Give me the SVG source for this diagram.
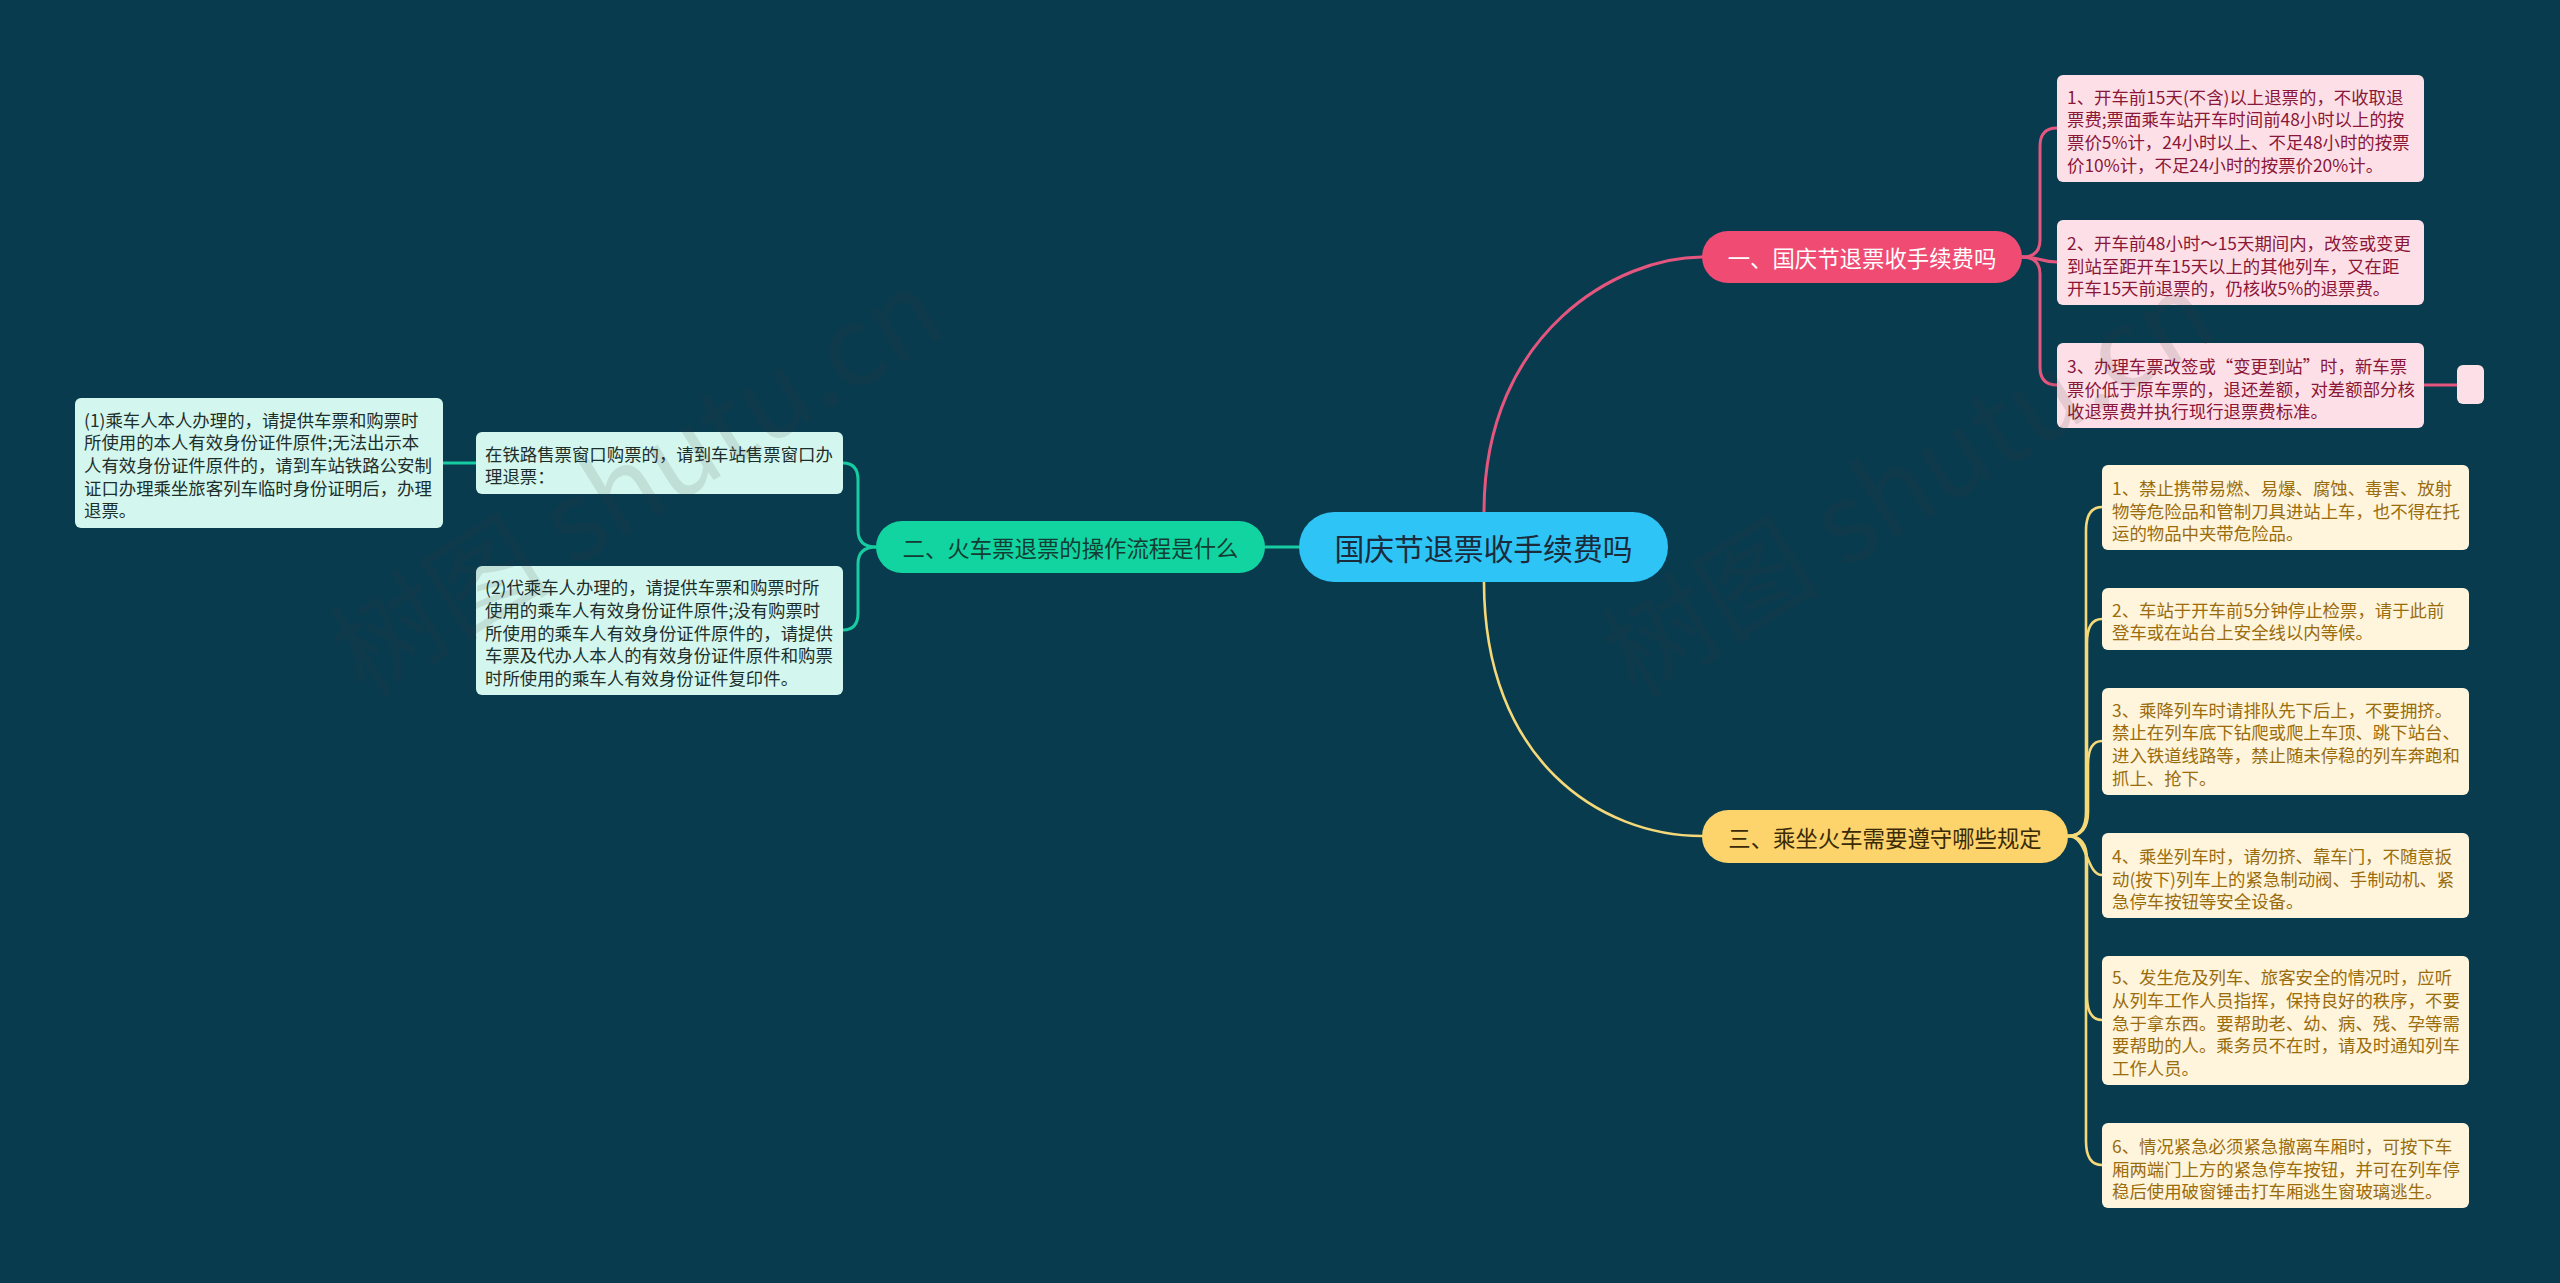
<svg xmlns="http://www.w3.org/2000/svg" width="2560" height="1283" viewBox="0 0 2560 1283">
<style>
text{font-family:"Noto Sans CJK SC","Noto Sans",sans-serif;dominant-baseline:central}
.conn{fill:none;stroke-linecap:round}
.cp{stroke:#E4567E;stroke-width:3}
.cg{stroke:#17CCA0;stroke-width:3}
.cy{stroke:#F5D978;stroke-width:2.6}
.root{fill:#2EC4F6}
.rt{font-size:29.8px;fill:#1B2B3B;text-anchor:middle}
.b1{fill:#EF4B73}
.b2{fill:#12D4A0}
.b3{fill:#FDD46C}
.bt{font-size:22.4px;text-anchor:middle}
.ip{fill:#FDE0E7}
.ig{fill:#D3F7EE}
.iy{fill:#FFF5DC}
.tp{font-size:17.4px;fill:#8A1638}
.tg{font-size:17.4px;fill:#1E2E2B}
.ty{font-size:17.4px;fill:#9A6C0C}
.wm{font-family:"Noto Sans CJK SC","Noto Sans",sans-serif;font-size:110px;fill:#3a3a3a;opacity:0.12;dominant-baseline:auto}
</style>
<rect width="2560" height="1283" fill="#093B4F"/>

<g id="connectors">
<path class="conn cp" d="M1484,512 C1484,330 1620,257 1702,257"/>
<path class="conn cg" d="M1299,547 L1265,547"/>
<path class="conn cy" d="M1484,582 C1484,760 1600,836 1702,836"/>
<path class="conn cp" d="M2022,257 Q2040,257 2040,240 L2040,146 Q2040,128 2057,128"/>
<path class="conn cp" d="M2022,257 C2040,257 2040,262 2057,262"/>
<path class="conn cp" d="M2022,257 Q2040,257 2040,274 L2040,367 Q2040,385 2057,385"/>
<path class="conn cp" d="M2424,385 L2457,385"/>
<path class="conn cg" d="M876,547 Q858,547 858,530 L858,480 Q858,463 843,463"/>
<path class="conn cg" d="M876,547 Q858,547 858,564 L858,613 Q858,630 843,630"/>
<path class="conn cg" d="M476,463 L443,463"/>
<path class="conn cy" d="M2068,836 Q2086,836 2086,812 L2086,531 Q2086,507 2102,507"/>
<path class="conn cy" d="M2068,836 Q2087,836 2087,812 L2087,643 Q2087,619 2102,619"/>
<path class="conn cy" d="M2068,836 Q2088,836 2088,812 L2088,765 Q2088,741 2102,741"/>
<path class="conn cy" d="M2068,836 C2088,836 2086,875 2102,875"/>
<path class="conn cy" d="M2068,836 Q2087,836 2087,860 L2087,996 Q2087,1020 2102,1020"/>
<path class="conn cy" d="M2068,836 Q2086,836 2086,860 L2086,1141 Q2086,1165 2102,1165"/>
</g>

<g id="root">
<rect class="root" x="1299" y="512" width="369" height="70" rx="35"/>
<text class="rt" x="1483.5" y="547">国庆节退票收手续费吗</text>
</g>

<g id="branch1">
<rect class="b1" x="1702" y="231" width="320" height="52" rx="26"/>
<text class="bt" x="1862" y="257" fill="#FFFFFF">一、国庆节退票收手续费吗</text>
</g>

<g id="branch2">
<rect class="b2" x="876" y="521" width="389" height="52" rx="26"/>
<text class="bt" x="1070.5" y="547" fill="#123D34">二、火车票退票的操作流程是什么</text>
</g>

<g id="branch3">
<rect class="b3" x="1702" y="810" width="366" height="53" rx="26.5"/>
<text class="bt" x="1885" y="836.5" fill="#3A2A06">三、乘坐火车需要遵守哪些规定</text>
</g>

<g id="p1">
<rect class="ip" x="2057" y="75" width="367" height="107" rx="6"/>
<text class="tp" x="2067"><tspan x="2067" y="95.5">1、开车前15天(不含)以上退票的，不收取退</tspan><tspan x="2067" y="118.2">票费;票面乘车站开车时间前48小时以上的按</tspan><tspan x="2067" y="140.9">票价5%计，24小时以上、不足48小时的按票</tspan><tspan x="2067" y="163.6">价10%计，不足24小时的按票价20%计。</tspan></text>
</g>
<g id="p2">
<rect class="ip" x="2057" y="220" width="367" height="85" rx="6"/>
<text class="tp" x="2067"><tspan x="2067" y="241.8">2、开车前48小时～15天期间内，改签或变更</tspan><tspan x="2067" y="264.5">到站至距开车15天以上的其他列车，又在距</tspan><tspan x="2067" y="287.2">开车15天前退票的，仍核收5%的退票费。</tspan></text>
</g>
<g id="p3">
<rect class="ip" x="2057" y="343" width="367" height="85" rx="6"/>
<text class="tp" x="2067"><tspan x="2067" y="364.8">3、办理车票改签或“变更到站”时，新车票</tspan><tspan x="2067" y="387.5">票价低于原车票的，退还差额，对差额部分核</tspan><tspan x="2067" y="410.2">收退票费并执行现行退票费标准。</tspan></text>
</g>
<g id="p3-empty">
<rect class="ip" x="2457" y="365" width="27" height="39" rx="6"/>
</g>

<g id="g-window">
<rect class="ig" x="476" y="432" width="367" height="62" rx="6"/>
<text class="tg"><tspan x="485" y="452.7">在铁路售票窗口购票的，请到车站售票窗口办</tspan><tspan x="485" y="475.4">理退票：</tspan></text>
</g>
<g id="g-1">
<rect class="ig" x="75" y="398" width="368" height="130" rx="6"/>
<text class="tg"><tspan x="84" y="418.6">(1)乘车人本人办理的，请提供车票和购票时</tspan><tspan x="84" y="441.3">所使用的本人有效身份证件原件;无法出示本</tspan><tspan x="84" y="464">人有效身份证件原件的，请到车站铁路公安制</tspan><tspan x="84" y="486.7">证口办理乘坐旅客列车临时身份证明后，办理</tspan><tspan x="84" y="509.4">退票。</tspan></text>
</g>
<g id="g-2">
<rect class="ig" x="476" y="566" width="367" height="129" rx="6"/>
<text class="tg"><tspan x="485" y="586.1">(2)代乘车人办理的，请提供车票和购票时所</tspan><tspan x="485" y="608.8">使用的乘车人有效身份证件原件;没有购票时</tspan><tspan x="485" y="631.5">所使用的乘车人有效身份证件原件的，请提供</tspan><tspan x="485" y="654.2">车票及代办人本人的有效身份证件原件和购票</tspan><tspan x="485" y="676.9">时所使用的乘车人有效身份证件复印件。</tspan></text>
</g>

<g id="y1">
<rect class="iy" x="2102" y="465" width="367" height="85" rx="6"/>
<text class="ty"><tspan x="2112" y="486.8">1、禁止携带易燃、易爆、腐蚀、毒害、放射</tspan><tspan x="2112" y="509.5">物等危险品和管制刀具进站上车，也不得在托</tspan><tspan x="2112" y="532.2">运的物品中夹带危险品。</tspan></text>
</g>
<g id="y2">
<rect class="iy" x="2102" y="588" width="367" height="62" rx="6"/>
<text class="ty"><tspan x="2112" y="608.7">2、车站于开车前5分钟停止检票，请于此前</tspan><tspan x="2112" y="631.4">登车或在站台上安全线以内等候。</tspan></text>
</g>
<g id="y3">
<rect class="iy" x="2102" y="688" width="367" height="107" rx="6"/>
<text class="ty"><tspan x="2112" y="708.5">3、乘降列车时请排队先下后上，不要拥挤。</tspan><tspan x="2112" y="731.2">禁止在列车底下钻爬或爬上车顶、跳下站台、</tspan><tspan x="2112" y="753.9">进入铁道线路等，禁止随未停稳的列车奔跑和</tspan><tspan x="2112" y="776.6">抓上、抢下。</tspan></text>
</g>
<g id="y4">
<rect class="iy" x="2102" y="833" width="367" height="85" rx="6"/>
<text class="ty"><tspan x="2112" y="854.8">4、乘坐列车时，请勿挤、靠车门，不随意扳</tspan><tspan x="2112" y="877.5">动(按下)列车上的紧急制动阀、手制动机、紧</tspan><tspan x="2112" y="900.2">急停车按钮等安全设备。</tspan></text>
</g>
<g id="y5">
<rect class="iy" x="2102" y="956" width="367" height="129" rx="6"/>
<text class="ty"><tspan x="2112" y="976.1">5、发生危及列车、旅客安全的情况时，应听</tspan><tspan x="2112" y="998.8">从列车工作人员指挥，保持良好的秩序，不要</tspan><tspan x="2112" y="1021.5">急于拿东西。要帮助老、幼、病、残、孕等需</tspan><tspan x="2112" y="1044.2">要帮助的人。乘务员不在时，请及时通知列车</tspan><tspan x="2112" y="1066.9">工作人员。</tspan></text>
</g>
<g id="y6">
<rect class="iy" x="2102" y="1123" width="367" height="85" rx="6"/>
<text class="ty"><tspan x="2112" y="1144.8">6、情况紧急必须紧急撤离车厢时，可按下车</tspan><tspan x="2112" y="1167.5">厢两端门上方的紧急停车按钮，并可在列车停</tspan><tspan x="2112" y="1190.2">稳后使用破窗锤击打车厢逃生窗玻璃逃生。</tspan></text>
</g>

<g id="watermark">
<text class="wm" x="365" y="698" transform="rotate(-32 365 698)">树图 shutu.cn</text>
<text class="wm" x="1636" y="700" transform="rotate(-32 1636 700)">树图 shutu.cn</text>
</g>
</svg>
